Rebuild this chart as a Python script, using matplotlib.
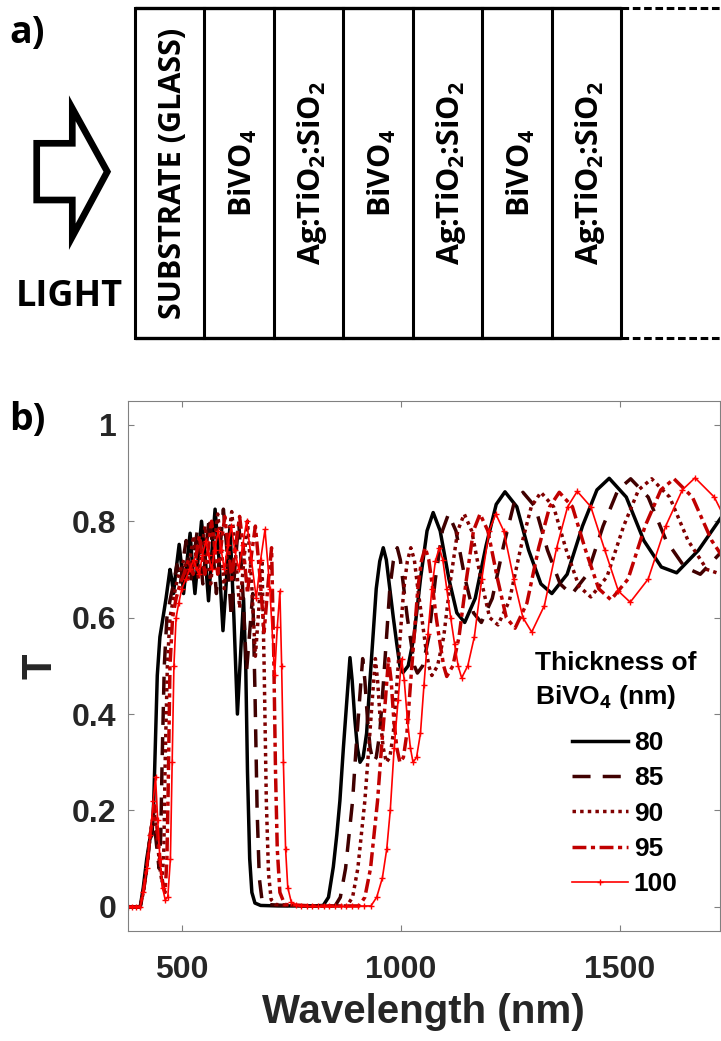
import numpy as np
import matplotlib
matplotlib.use('Agg')
import matplotlib.pyplot as plt
from matplotlib.patches import Polygon

plt.rcParams['mathtext.fontset'] = 'custom'
plt.rcParams['mathtext.rm'] = 'Open Sans:bold'
plt.rcParams['mathtext.it'] = 'Open Sans:bold'
plt.rcParams['mathtext.bf'] = 'Open Sans:bold'

# ---- panel a: layer stack ----
layers = ['SUBSTRATE (GLASS)', 'BiVO$_4$', 'Ag:TiO$_2$:SiO$_2$', 'BiVO$_4$',
          'Ag:TiO$_2$:SiO$_2$', 'BiVO$_4$', 'Ag:TiO$_2$:SiO$_2$']

# ---- panel b: transmittance vs wavelength, one list of (nm, T) per thickness ----
thickness = ['80', '85', '90', '95', '100']

curve_80 = [(376, 0), (405, 0), (412, 0.04), (420, 0.10), (427, 0.14), (432, 0.15), (436, 0.22),
            (440, 0.35), (444, 0.48), (450, 0.56), (456, 0.594), (464, 0.64), (473, 0.70), (477, 0.68),
            (481, 0.65), (487, 0.70), (494, 0.752), (499, 0.71), (504, 0.65), (511, 0.71), (519, 0.775),
            (525, 0.70), (530, 0.65), (537, 0.72), (545, 0.80), (553, 0.73), (561, 0.635), (569, 0.74),
            (576, 0.825), (585, 0.72), (594, 0.573), (602, 0.68), (610, 0.79), (619, 0.60), (627, 0.40),
            (634, 0.52), (641, 0.64), (646, 0.50), (650, 0.28), (655, 0.10), (660, 0.03), (667, 0.008),
            (680, 0.003), (720, 0.002), (800, 0.002), (823, 0.003), (835, 0.02), (846, 0.083), (854, 0.15),
            (861, 0.22), (869, 0.33), (877, 0.43), (884, 0.517), (889, 0.47), (895, 0.39), (901, 0.33),
            (907, 0.30), (914, 0.31), (922, 0.36), (929, 0.46), (937, 0.566), (944, 0.66), (952, 0.717),
            (960, 0.745), (967, 0.72), (975, 0.66), (983, 0.60), (991, 0.545), (998, 0.50), (1005, 0.486),
            (1017, 0.50), (1030, 0.56), (1045, 0.68), (1060, 0.78), (1074, 0.818), (1090, 0.78),
            (1110, 0.68), (1128, 0.61), (1146, 0.59), (1170, 0.64), (1195, 0.75), (1218, 0.835),
            (1238, 0.861), (1265, 0.83), (1292, 0.74), (1320, 0.67), (1345, 0.65), (1380, 0.69),
            (1415, 0.79), (1448, 0.865), (1476, 0.889), (1515, 0.85), (1555, 0.76), (1595, 0.705),
            (1630, 0.693), (1680, 0.74), (1731, 0.807), (1760, 0.84)]

curve_85 = [(376, 0), (405, 0), (412, 0.03), (420, 0.08), (428, 0.15), (435, 0.19), (441, 0.14),
            (448, 0.08), (452, 0.15), (455, 0.30), (460, 0.50), (466, 0.60), (474, 0.64), (481, 0.67),
            (489, 0.71), (497, 0.67), (503, 0.72), (510, 0.76), (515, 0.72), (520, 0.67), (528, 0.73),
            (536, 0.785), (542, 0.73), (548, 0.67), (555, 0.74), (563, 0.81), (571, 0.74), (579, 0.65),
            (587, 0.74), (595, 0.825), (604, 0.73), (613, 0.60), (621, 0.70), (630, 0.80), (639, 0.66),
            (648, 0.49), (655, 0.57), (662, 0.65), (667, 0.45), (672, 0.20), (677, 0.06), (683, 0.015),
            (692, 0.005), (760, 0.002), (850, 0.002), (862, 0.02), (874, 0.08), (882, 0.15), (890, 0.22),
            (898, 0.33), (906, 0.43), (913, 0.515), (918, 0.47), (924, 0.39), (930, 0.33), (937, 0.30),
            (944, 0.31), (952, 0.36), (960, 0.46), (968, 0.566), (975, 0.66), (983, 0.717), (992, 0.745),
            (999, 0.72), (1007, 0.66), (1015, 0.60), (1024, 0.545), (1031, 0.50), (1038, 0.485),
            (1050, 0.50), (1064, 0.56), (1079, 0.68), (1095, 0.78), (1109, 0.815), (1126, 0.78),
            (1147, 0.68), (1166, 0.61), (1184, 0.59), (1209, 0.64), (1235, 0.75), (1258, 0.835),
            (1279, 0.86), (1307, 0.83), (1335, 0.74), (1364, 0.67), (1390, 0.648), (1426, 0.69),
            (1462, 0.79), (1496, 0.865), (1525, 0.888), (1565, 0.85), (1606, 0.76), (1648, 0.705),
            (1684, 0.69), (1736, 0.74), (1788, 0.807)]

curve_90 = [(376, 0), (405, 0), (412, 0.03), (420, 0.08), (428, 0.15), (437, 0.20), (444, 0.14),
            (450, 0.08), (455, 0.05), (459, 0.12), (462, 0.30), (467, 0.50), (473, 0.60), (481, 0.64),
            (490, 0.68), (497, 0.70), (505, 0.72), (514, 0.68), (520, 0.73), (527, 0.77), (532, 0.73),
            (538, 0.68), (545, 0.74), (553, 0.79), (559, 0.74), (566, 0.67), (574, 0.75), (582, 0.815),
            (590, 0.75), (597, 0.66), (605, 0.75), (614, 0.82), (623, 0.73), (632, 0.62), (641, 0.71),
            (650, 0.80), (659, 0.68), (668, 0.52), (676, 0.62), (683, 0.72), (688, 0.50), (693, 0.22),
            (698, 0.07), (704, 0.015), (714, 0.005), (780, 0.002), (877, 0.002), (890, 0.02), (902, 0.08),
            (910, 0.15), (918, 0.22), (927, 0.33), (935, 0.43), (942, 0.515), (947, 0.47), (953, 0.39),
            (960, 0.33), (967, 0.30), (975, 0.31), (983, 0.36), (991, 0.46), (999, 0.566), (1007, 0.66),
            (1015, 0.717), (1023, 0.745), (1031, 0.72), (1039, 0.66), (1048, 0.60), (1056, 0.545),
            (1064, 0.50), (1071, 0.48), (1084, 0.50), (1098, 0.56), (1114, 0.68), (1130, 0.78),
            (1145, 0.815), (1162, 0.78), (1183, 0.68), (1203, 0.60), (1222, 0.585), (1248, 0.635),
            (1274, 0.745), (1298, 0.83), (1320, 0.86), (1349, 0.83), (1378, 0.74), (1407, 0.665),
            (1434, 0.643), (1471, 0.685), (1509, 0.79), (1543, 0.865), (1573, 0.888), (1614, 0.85),
            (1656, 0.76), (1699, 0.70), (1738, 0.688), (1780, 0.72)]

curve_95 = [(376, 0), (405, 0), (412, 0.03), (420, 0.08), (428, 0.15), (438, 0.21), (446, 0.14),
            (452, 0.08), (458, 0.04), (462, 0.03), (466, 0.10), (469, 0.25), (473, 0.50), (479, 0.60),
            (487, 0.64), (496, 0.67), (505, 0.69), (515, 0.72), (526, 0.69), (533, 0.73), (540, 0.77),
            (546, 0.73), (553, 0.69), (560, 0.74), (568, 0.80), (575, 0.75), (582, 0.69), (590, 0.75),
            (598, 0.81), (606, 0.75), (614, 0.68), (623, 0.75), (632, 0.81), (641, 0.74), (650, 0.65),
            (659, 0.73), (668, 0.79), (678, 0.69), (688, 0.57), (697, 0.67), (705, 0.745), (710, 0.52),
            (714, 0.28), (718, 0.12), (724, 0.03), (735, 0.005), (800, 0.002), (905, 0.002), (918, 0.02),
            (931, 0.08), (939, 0.15), (947, 0.22), (956, 0.33), (965, 0.43), (972, 0.515), (978, 0.47),
            (984, 0.39), (991, 0.33), (998, 0.30), (1006, 0.31), (1014, 0.36), (1022, 0.46), (1031, 0.566),
            (1039, 0.66), (1047, 0.717), (1056, 0.745), (1064, 0.72), (1073, 0.66), (1081, 0.60),
            (1090, 0.545), (1098, 0.50), (1105, 0.478), (1119, 0.50), (1133, 0.56), (1150, 0.68),
            (1166, 0.78), (1181, 0.815), (1199, 0.78), (1221, 0.68), (1241, 0.60), (1261, 0.578),
            (1288, 0.63), (1315, 0.745), (1340, 0.83), (1362, 0.86), (1392, 0.83), (1422, 0.74),
            (1452, 0.66), (1480, 0.637), (1519, 0.68), (1558, 0.79), (1594, 0.865), (1624, 0.888),
            (1666, 0.85), (1710, 0.76), (1754, 0.70), (1793, 0.685)]

curve_100 = [(376, 0), (386, 0), (396, 0), (405, 0), (412, 0.03), (420, 0.08), (428, 0.15), (435, 0.22),
             (440, 0.27), (445, 0.18), (450, 0.10), (456, 0.04), (462, 0.015), (468, 0.02), (474, 0.10),
             (478, 0.30), (482, 0.50), (487, 0.60), (493, 0.63), (500, 0.66), (509, 0.68), (518, 0.70),
             (527, 0.72), (534, 0.70), (540, 0.69), (547, 0.73), (555, 0.76), (561, 0.73), (568, 0.70),
             (575, 0.74), (583, 0.78), (590, 0.74), (597, 0.70), (605, 0.75), (613, 0.79), (621, 0.74),
             (630, 0.70), (639, 0.75), (648, 0.80), (659, 0.72), (670, 0.64), (680, 0.72), (690, 0.783),
             (701, 0.66), (712, 0.48), (718, 0.58), (724, 0.655), (728, 0.50), (732, 0.30), (737, 0.12),
             (742, 0.04), (750, 0.01), (760, 0.004), (772, 0.002), (785, 0.001), (798, 0.001),
             (811, 0.001), (824, 0.001), (837, 0.001), (850, 0.001), (863, 0.001), (876, 0.001),
             (889, 0.001), (902, 0.001), (915, 0.002), (932, 0.002), (945, 0.02), (958, 0.06), (968, 0.12),
             (976, 0.20), (985, 0.33), (994, 0.43), (1002, 0.515), (1008, 0.47), (1015, 0.39), (1022, 0.33),
             (1028, 0.30), (1036, 0.31), (1045, 0.36), (1053, 0.46), (1062, 0.566), (1071, 0.66),
             (1079, 0.717), (1088, 0.745), (1096, 0.72), (1105, 0.66), (1114, 0.60), (1123, 0.545),
             (1131, 0.50), (1139, 0.475), (1153, 0.50), (1168, 0.56), (1185, 0.68), (1202, 0.78),
             (1217, 0.815), (1235, 0.78), (1258, 0.68), (1279, 0.60), (1299, 0.57), (1328, 0.625),
             (1356, 0.745), (1381, 0.83), (1403, 0.862), (1434, 0.83), (1466, 0.74), (1497, 0.655),
             (1524, 0.632), (1565, 0.68), (1605, 0.79), (1643, 0.865), (1672, 0.89), (1716, 0.85),
             (1760, 0.77)]

curves = [curve_80, curve_85, curve_90, curve_95, curve_100]
colors = ['#000000', '#400000', '#800000', '#c00000', '#ff0000']
styles = [dict(lw=2.5, ls='-'),
          dict(lw=2.5, dashes=(5.2, 3.5)),
          dict(lw=2.5, dashes=(1.0, 1.2)),
          dict(lw=2.5, dashes=(4.0, 1.3, 1.2, 1.3)),
          dict(lw=1.2, ls='-', marker='+', markersize=4, markeredgewidth=1.0)]

W, H = 721, 1041
fig = plt.figure(figsize=(W / 100, H / 100), dpi=100)

# schematic drawn in pixel coordinates
axd = fig.add_axes([0, 0, 1, 1])
axd.set_xlim(0, W)
axd.set_ylim(H, 0)
axd.axis('off')

x0, lw_box, top, bot = 134.5, 69.5, 8.3, 337.7
n = len(layers)
xe = x0 + n * lw_box
axd.plot([x0, xe], [top, top], color='k', lw=2.4, solid_capstyle='butt')
axd.plot([x0, xe], [bot, bot], color='k', lw=2.4, solid_capstyle='butt')
for i in range(n + 1):
    axd.plot([x0 + i * lw_box] * 2, [top, bot], color='k', lw=2.2)
axd.plot([xe, W], [top, top], color='k', lw=2.2, dashes=(2.5, 1.2))
axd.plot([xe, W], [bot, bot], color='k', lw=2.2, dashes=(2.5, 1.2))
for i, lab in enumerate(layers):
    axd.text(x0 + (i + 0.5) * lw_box + 4, (top + bot) / 2, lab, rotation=90,
             ha='center', va='center', fontsize=22, fontweight='bold', family='Open Sans')

arrow = Polygon([(36.7, 143.3), (72.3, 143.3), (72.3, 108.3), (107.3, 171.7),
                 (72.3, 236.7), (72.3, 200), (36.7, 200)], closed=True,
                fill=False, edgecolor='k', lw=4.8, joinstyle='miter')
axd.add_patch(arrow)
axd.text(69, 297, 'LIGHT', ha='center', va='center', fontsize=26, fontweight='bold',
         family='Open Sans')
axd.text(9, 33, 'a)', ha='left', va='center', fontsize=27, fontweight='bold', family='Open Sans')
axd.text(9, 420, 'b)', ha='left', va='center', fontsize=27, fontweight='bold', family='Open Sans')

# transmittance plot
ax = fig.add_axes([127.5 / W, 1 - 931 / H, 592.5 / W, 530.3 / H])
handles = []
for pts, c, st, lab in zip(curves, colors, styles, thickness):
    arr = np.array(pts)
    h, = ax.plot(arr[:, 0], arr[:, 1], color=c, label=lab, **st)
    handles.append(h)

ax.set_xlim(376, 1729)
ax.set_ylim(-0.05, 1.05)
ax.set_xticks([500, 1000, 1500])
ax.set_yticks([0, 0.2, 0.4, 0.6, 0.8, 1])
ax.set_yticklabels(['0', '0.2', '0.4', '0.6', '0.8', '1'])
ax.tick_params(direction='in', top=True, right=True, length=4, width=0.8, color='#808080',
               labelsize=23, labelcolor='#262626')
ax.tick_params(axis='x', pad=17)
ax.tick_params(axis='y', pad=8)
for lbl in ax.get_xticklabels() + ax.get_yticklabels():
    lbl.set_family('Liberation Sans')
    lbl.set_fontweight('bold')
for s in ax.spines.values():
    s.set_color('#808080')
    s.set_linewidth(0.8)

ax.set_xlabel('Wavelength (nm)', fontsize=29, fontweight='bold', family='Liberation Sans',
              color='#262626', labelpad=6)
ax.set_ylabel('T', fontsize=30, fontweight='bold', family='Liberation Sans', color='#262626')
ax.yaxis.set_label_coords((60 - 127.5) / 592.5, 0.5)

fig.text(535 / W, 1 - 670 / H, 'Thickness of', ha='left', va='baseline', fontsize=19,
         fontweight='bold', family='Liberation Sans')
fig.text(535 / W, 1 - 704 / H, 'BiVO$_4$ (nm)', ha='left', va='baseline', fontsize=19,
         fontweight='bold', family='Liberation Sans')
ax.legend(handles=handles, loc='upper left', bbox_to_anchor=(571.7 / W, 1 - 731 / H),
          bbox_transform=fig.transFigure, frameon=False, borderpad=0, borderaxespad=0,
          handlelength=2.15, handletextpad=0.2, labelspacing=0.43,
          prop=dict(family='Liberation Sans', weight='bold', size=19))

fig.savefig('out.png', dpi=100)
